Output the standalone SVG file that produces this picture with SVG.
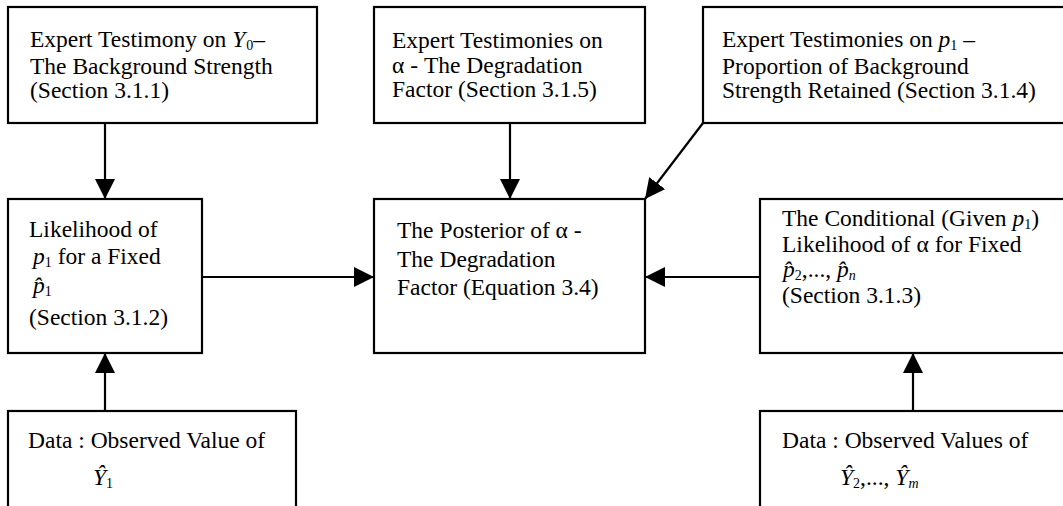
<svg xmlns="http://www.w3.org/2000/svg" width="1063" height="506" viewBox="0 0 1063 506">
<style>
.box{fill:#fff;stroke:#000;stroke-width:2.2}
.t{font-family:"Liberation Serif","Times New Roman",serif;font-size:23.5px;fill:#000}
.i{font-style:italic}
.s{font-size:14px}
.c{stroke:#000;stroke-width:2.2;fill:none}
</style>
<defs>
<marker id="ah" viewBox="0 0 20 20" refX="20" refY="10" markerWidth="20" markerHeight="20" markerUnits="userSpaceOnUse" orient="auto">
<path d="M0,0 L20,10 L0,20 z" fill="#000"/>
</marker>
</defs>
<rect width="1063" height="506" fill="#fff"/>
<g id="connectors">
<line class="c" x1="105" y1="123" x2="105" y2="199" marker-end="url(#ah)"/>
<line class="c" x1="510" y1="123" x2="510" y2="199" marker-end="url(#ah)"/>
<line class="c" x1="703" y1="123" x2="645" y2="199" marker-end="url(#ah)"/>
<line class="c" x1="202" y1="277" x2="374" y2="277" marker-end="url(#ah)"/>
<line class="c" x1="760" y1="277" x2="645" y2="277" marker-end="url(#ah)"/>
<line class="c" x1="105" y1="411" x2="105" y2="353" marker-end="url(#ah)"/>
<line class="c" x1="913" y1="411" x2="913" y2="353" marker-end="url(#ah)"/>
</g>
<g id="expert-y0">
<rect class="box" x="8" y="7" width="309" height="116"/>
<text class="t" x="30" y="47">Expert Testimony on <tspan class="i">Y</tspan><tspan class="s" dx="1" dy="3">0</tspan><tspan dy="-3">–</tspan></text>
<text class="t" x="30" y="74">The Background Strength</text>
<text class="t" x="30" y="98">(Section 3.1.1)</text>
</g>
<g id="expert-alpha">
<rect class="box" x="374" y="7" width="271" height="116"/>
<text class="t" x="392" y="48">Expert Testimonies on</text>
<text class="t" x="392" y="73">α - The Degradation</text>
<text class="t" x="392" y="97">Factor (Section 3.1.5)</text>
</g>
<g id="expert-p1">
<rect class="box" x="703" y="7" width="370" height="116"/>
<text class="t" x="722" y="47">Expert Testimonies on <tspan class="i">p</tspan><tspan class="s" dy="3">1</tspan><tspan dy="-3"> –</tspan></text>
<text class="t" x="722" y="74">Proportion of Background</text>
<text class="t" x="722" y="98">Strength Retained (Section 3.1.4)</text>
</g>
<g id="likelihood-p1">
<rect class="box" x="8" y="199" width="194" height="154"/>
<text class="t" x="29" y="237">Likelihood of</text>
<text class="t" x="33" y="264"><tspan class="i">p</tspan><tspan class="s" dy="3">1</tspan><tspan dy="-3"> for a Fixed</tspan></text>
<text class="t" x="33" y="293"><tspan class="i">p̂</tspan><tspan class="s" dy="3">1</tspan></text>
<text class="t" x="29" y="325">(Section 3.1.2)</text>
</g>
<g id="posterior">
<rect class="box" x="374" y="199" width="271" height="154"/>
<text class="t" x="397" y="238">The Posterior of α -</text>
<text class="t" x="397" y="267">The Degradation</text>
<text class="t" x="397" y="295">Factor (Equation 3.4)</text>
</g>
<g id="conditional">
<rect class="box" x="760" y="199" width="310" height="154"/>
<text class="t" x="782" y="226">The Conditional (Given <tspan class="i">p</tspan><tspan class="s" dy="3">1</tspan><tspan dy="-3">)</tspan></text>
<text class="t" x="782" y="252">Likelihood of α for Fixed</text>
<text class="t" x="783" y="277"><tspan class="i">p̂</tspan><tspan class="s" dy="3">2</tspan><tspan dy="-3">,..., </tspan><tspan class="i">p̂</tspan><tspan class="s i" dy="3">n</tspan></text>
<text class="t" x="782" y="303">(Section 3.1.3)</text>
</g>
<g id="data-y1">
<rect class="box" x="8" y="411" width="288" height="110"/>
<text class="t" x="28" y="448">Data : Observed Value of</text>
<text class="t" x="93" y="485"><tspan class="i">Ŷ</tspan><tspan class="s" dy="3">1</tspan></text>
</g>
<g id="data-y2m">
<rect class="box" x="760" y="411" width="310" height="110"/>
<text class="t" x="782" y="448">Data : Observed Values of</text>
<text class="t" x="840" y="485"><tspan class="i">Ŷ</tspan><tspan class="s" dy="3">2</tspan><tspan dy="-3">,..., </tspan><tspan class="i">Ŷ</tspan><tspan class="s i" dy="3">m</tspan></text>
</g>
</svg>
